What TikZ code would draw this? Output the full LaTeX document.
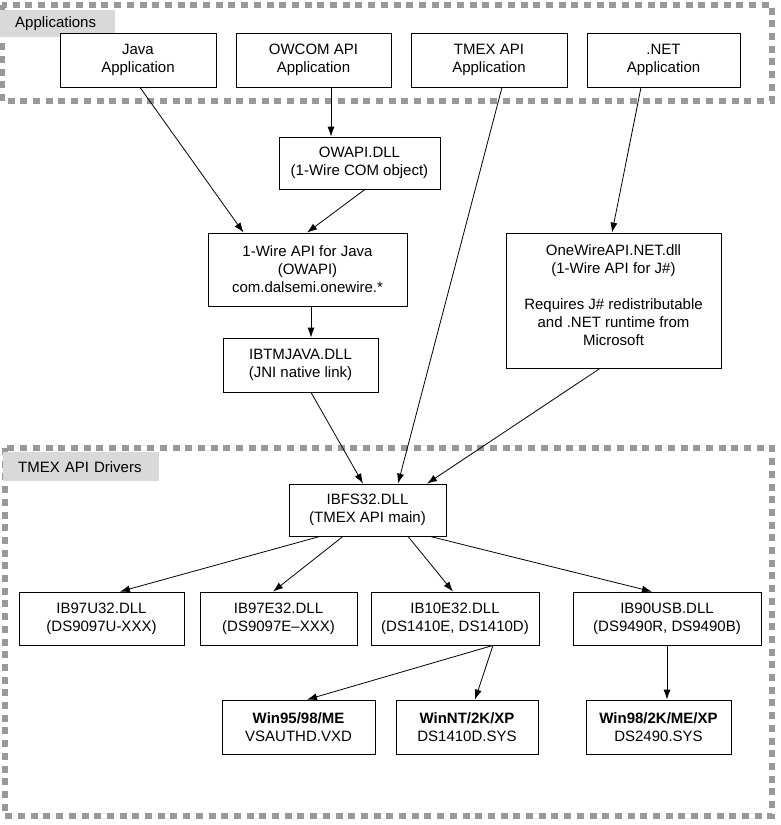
\documentclass[tikz,border=0pt]{standalone}
\usepackage{fontspec}
\setmainfont{Liberation Sans}
\usetikzlibrary{arrows.meta}
\tikzset{x=1pt, y=-1pt,
  every node/.style={font=\fontsize{15}{18}\selectfont, align=center},
  box/.style={draw=black, line width=0.8pt, fill=white, inner sep=2pt},
  link/.style={draw=black, line width=0.8pt, -{Latex[length=10pt,width=7pt]}},
  region/.style={draw=black!40, line width=6pt, dash pattern=on 7pt off 5.7pt},
  region label/.style={fill=black!15, anchor=north west, align=left, inner xsep=15pt, inner ysep=0pt}
}
\newcommand\Block[5]{% name, x, y, width, height / text follows
  \node[box, minimum width=#4, minimum height=#5] (#1) at (#2,#3)}

\begin{document}
\begin{tikzpicture}
\useasboundingbox (0,0) rectangle (780,825);

% groups
\draw[region] (2,5) rectangle (772,101);
\node[region label, text width=85, minimum height=27] (appLabel) at (0,10) {Applications};
\draw[region] (5,448) rectangle (772,816);
\node[region label, text width=126, minimum height=29] (drvLabel) at (3,452) {TMEX API Drivers};

% applications
\Block{javaApp}{138}{60}{156}{54} {Java\\Application};
\Block{owcomApp}{313.5}{60}{155}{54} {OWCOM API\\Application};
\Block{tmexApp}{489}{60}{156}{54} {TMEX API\\Application};
\Block{netApp}{663.5}{60}{153}{54} {.NET\\Application};

% middle layer
\Block{owapiDll}{359.5}{163}{161}{52} {OWAPI.DLL\\(1-Wire COM object)};
\Block{owapiJava}{307.5}{269.5}{199}{73} {1-Wire API for Java\\(OWAPI)\\com.dalsemi.onewire.*};
\Block{netDll}{613.5}{300.5}{215}{135} {OneWireAPI.NET.dll\\(1-Wire API for J\#)\\[18pt]Requires J\# redistributable\\and .NET runtime from\\Microsoft\\[-8pt]};
\Block{jniDll}{300.5}{365}{155}{54} {IBTMJAVA.DLL\\(JNI native link)};

% drivers
\Block{ibfs}{367.5}{510}{157}{52} {IBFS32.DLL\\(TMEX API main)};
\Block{ibU}{101.5}{618.5}{165}{53} {IB97U32.DLL\\(DS9097U-XXX)};
\Block{ibE}{278.5}{618.5}{157}{53} {IB97E32.DLL\\(DS9097E--XXX)};
\Block{ibTen}{455}{618.5}{168}{53} {IB10E32.DLL\\(DS1410E, DS1410D)};
\Block{ibUsb}{667}{618.5}{188}{53} {IB90USB.DLL\\(DS9490R, DS9490B)};
\Block{vxd}{298.5}{727}{153}{54} {\textbf{Win95/98/ME}\\VSAUTHD.VXD};
\Block{sysNT}{467}{727}{142}{54} {\textbf{WinNT/2K/XP}\\DS1410D.SYS};
\Block{sysUsb}{658.5}{727}{145}{54} {\textbf{Win98/2K/ME/XP}\\DS2490.SYS};

% links
\draw[link] ([xshift=2]javaApp.south) -- ([xshift=-64]owapiJava.north);
\draw[link] ([xshift=17.5]owcomApp.south) -- ([xshift=-28.5]owapiDll.north);
\draw[link] ([xshift=5.5]owapiDll.south) -- ([xshift=-0.5]owapiJava.north);
\draw[link] ([xshift=13]tmexApp.south) -- ([xshift=30.5]ibfs.north);
\draw[link] ([xshift=-22.5]netApp.south) -- ([xshift=-1.5]netDll.north);
\draw[link] ([xshift=3.5]owapiJava.south) -- ([xshift=10.5]jniDll.north);
\draw[link] ([xshift=10.5]jniDll.south) -- ([xshift=-4.5]ibfs.north);
\draw[link] ([xshift=-13.5]netDll.south) -- ([xshift=59.5]ibfs.north);
\draw[link] ([xshift=-47.5]ibfs.south) -- ([xshift=18.5]ibU.north);
\draw[link] ([xshift=-24.5]ibfs.south) -- ([xshift=-5.5]ibE.north);
\draw[link] ([xshift=40.5]ibfs.south) -- ([xshift=-2]ibTen.north);
\draw[link] ([xshift=62.5]ibfs.south) -- ([xshift=-15]ibUsb.north);
\draw[link] ([xshift=38]ibTen.south) -- ([xshift=8.5]vxd.north);
\draw[link] ([xshift=38]ibTen.south) -- ([xshift=8]sysNT.north);
\draw[link] (ibUsb.south) -- ([xshift=8.5]sysUsb.north);
\end{tikzpicture}
\end{document}
